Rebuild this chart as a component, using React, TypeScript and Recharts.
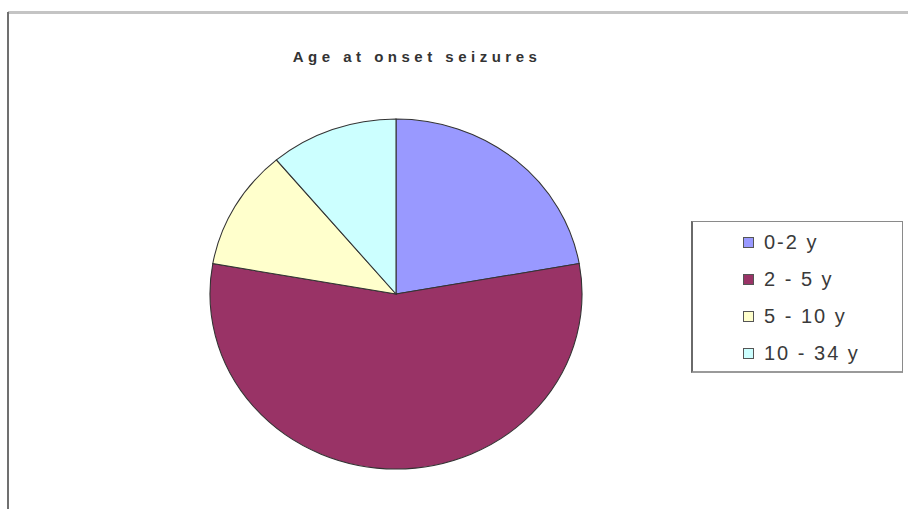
import { PieChart, Pie, Cell } from 'recharts';

const ageGroups = ['0-2 y', '2 - 5 y', '5 - 10 y', '10 - 34 y'];
const patientCounts = [4, 10, 2, 2];
const sliceColors = ['#9999FF', '#993366', '#FFFFCC', '#CCFFFF'];

const data = ageGroups.map((name, i) => ({ name, value: patientCounts[i] }));

const CX = 396;
const CY = 294;

const LegendBox = () => (
    <div
        style={{
            position: 'absolute',
            left: 691,
            top: 221,
            width: 212,
            height: 152,
            border: '1px solid #8a8a8a',
            borderLeft: '2px solid #6a6a6a',
            borderBottom: '2px solid #9a9a9a',
            boxSizing: 'border-box',
            background: '#fff',
            paddingTop: 2,
            paddingLeft: 50,
        }}
    >
        {ageGroups.map((name, i) => (
            <div
                key={name}
                style={{
                    display: 'flex',
                    alignItems: 'center',
                    height: 37,
                    fontFamily: 'Liberation Sans, Arial, sans-serif',
                    fontSize: 20,
                    letterSpacing: 2,
                    color: '#3a3a3a',
                }}
            >
                <span
                    style={{
                        display: 'inline-block',
                        width: 9,
                        height: 9,
                        border: '1px solid #555',
                        background: sliceColors[i],
                        marginRight: 10,
                    }}
                />
                {name}
            </div>
        ))}
    </div>
);

export default function App() {
    return (
        <div
            style={{
                position: 'absolute',
                left: 0,
                top: 0,
                width: 908,
                height: 509,
                overflow: 'hidden',
                background: '#fff',
            }}
        >
            <style>{`.recharts-pie { transform-origin: ${CX}px ${CY}px; transform: scaleX(1.063); }`}</style>
            {/* chart frame */}
            <div style={{ position: 'absolute', left: 8, top: 11, right: 0, height: 3, background: '#c4c4c4' }} />
            <div style={{ position: 'absolute', left: 7, top: 12, bottom: 0, width: 2, background: '#707070' }} />
            <div
                style={{
                    position: 'absolute',
                    left: 0,
                    width: 834,
                    top: 48,
                    textAlign: 'center',
                    fontFamily: 'Liberation Sans, Arial, sans-serif',
                    fontWeight: 'bold',
                    fontSize: 15,
                    letterSpacing: 4.5,
                    color: '#333',
                }}
            >
                Age at onset seizures
            </div>
            <PieChart
                width={908}
                height={509}
                margin={{ top: 0, right: 0, bottom: 0, left: 0 }}
                style={{ position: 'absolute', left: 0, top: 0 }}
            >
                <Pie
                    data={data}
                    dataKey="value"
                    nameKey="name"
                    cx={CX}
                    cy={CY}
                    outerRadius={175}
                    startAngle={90}
                    endAngle={-270}
                    stroke="#333"
                    strokeWidth={1}
                    isAnimationActive={false}
                >
                    {data.map((_, index) => (
                        <Cell key={`cell-${index}`} fill={sliceColors[index]} />
                    ))}
                </Pie>
            </PieChart>
            <LegendBox />
        </div>
    );
}
